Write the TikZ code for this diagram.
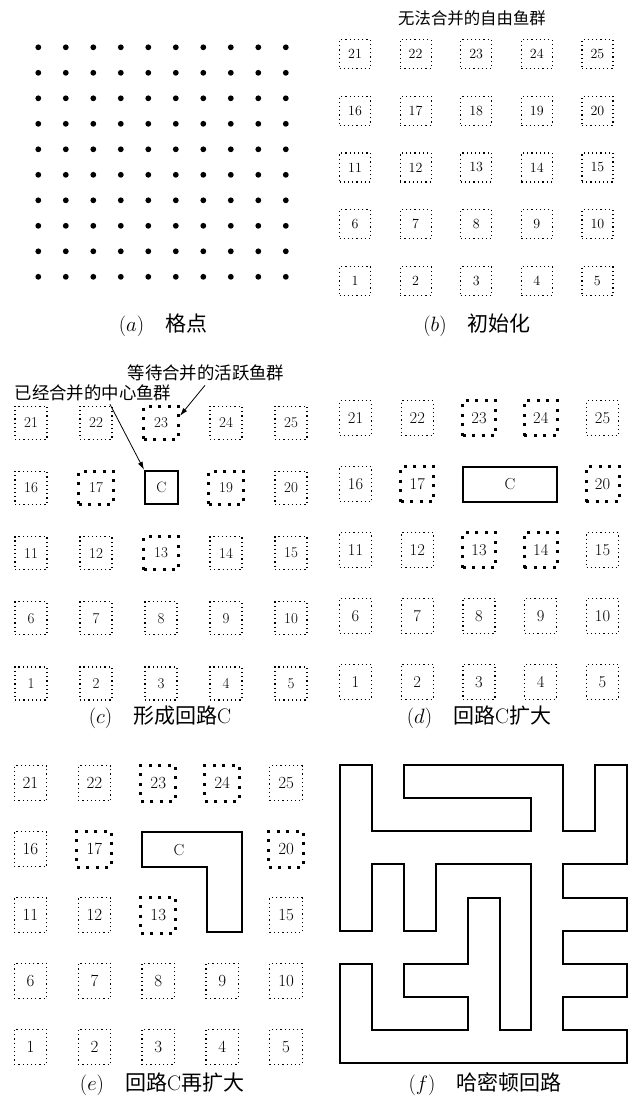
\documentclass[tikz,border=0pt]{standalone}
\usepackage{fontspec}
\newfontfamily\cjk{Noto Sans CJK SC}
\usetikzlibrary{arrows.meta}
\begin{document}
\begin{tikzpicture}[x=1pt,y=-1pt,
  dotbox/.style={draw, dash pattern=on 1.2pt off 3pt, line width=1.2pt, inner sep=0pt},
  boldbox/.style={draw, dash pattern=on 3pt off 6.5pt, line width=3pt, inner sep=0pt},
  cbox/.style={draw, line width=2pt, inner sep=0pt},
  captxt/.style={inner sep=0pt, font=\fontsize{21}{21}\selectfont},
  lbl/.style={inner sep=0pt},
  arr/.style={line width=0.8pt, -{Latex[length=8pt,width=5pt]}},
  hpath/.style={line width=2pt, line join=miter}
]
\useasboundingbox (0,0) rectangle (629,1103);

% ---------- (a) lattice points
\foreach \i in {0,...,9}
  \foreach \j in {0,...,9}
    \fill ({38.3+27.5*\i},{47.3+25.5*\j}) circle (2.9pt);
\node[captxt] (capa) at (163,325) {$(a)$\quad{\cjk 格点}};

% ---------- (b) initialisation
\node[lbl, font=\cjk\fontsize{16.4}{16.4}\selectfont] (titleb) at (472,18) {无法合并的自由鱼群};
\foreach \n in {1,...,25} {
  \pgfmathtruncatemacro\ii{mod(\n-1,5)}
  \pgfmathtruncatemacro\jj{4-int((\n-1)/5)}
  \node[dotbox, minimum width=31pt, minimum height=29pt, font=\fontsize{14}{14}\selectfont]
    (b\n) at ({355+60.6*\ii},{54+56.7*\jj}) {\n};
}
\node[captxt] (capb) at (477,325) {$(b)$\quad{\cjk 初始化}};

% ---------- (c) form circuit C
\foreach \n in {1,2,3,4,5,6,7,8,9,10,11,12,14,15,16,20,21,22,24,25} {
  \pgfmathtruncatemacro\ii{mod(\n-1,5)}
  \pgfmathtruncatemacro\jj{4-int((\n-1)/5)}
  \node[dotbox, minimum width=32pt, minimum height=33pt, font=\fontsize{15}{15}\selectfont]
    (c\n) at ({31+65*\ii},{422.7+65.2*\jj}) {\n};
}
\foreach \n in {13,17,19,23} {
  \pgfmathtruncatemacro\ii{mod(\n-1,5)}
  \pgfmathtruncatemacro\jj{4-int((\n-1)/5)}
  \node[boldbox, minimum width=35pt, minimum height=33pt, font=\fontsize{15}{15}\selectfont]
    (c\n) at ({31+65*\ii},{422.7+65.2*\jj}) {\n};
}
\node[cbox, minimum width=33pt, minimum height=33.5pt, font=\fontsize{15}{15}\selectfont] (cC) at (161.5,487.5) {C};
\node[lbl, font=\cjk\fontsize{17.4}{17.4}\selectfont] (lab1) at (206,373) {等待合并的活跃鱼群};
\node[lbl, font=\cjk\fontsize{17.4}{17.4}\selectfont] (lab2) at (93,393) {已经合并的中心鱼群};
\draw[arr] ([xshift=-1pt,yshift=-4pt]lab1.south) -- (c23.20);
\draw[arr] ([xshift=17pt,yshift=-3pt]lab2.south) -- (cC.north west);
\node[captxt] (capc) at (160,717) {$(c)$\quad{\cjk 形成回路}C};

% ---------- (d) circuit C enlarged
\foreach \n in {1,2,3,4,5,6,7,8,9,10,11,12,15,16,21,22,25} {
  \pgfmathtruncatemacro\ii{mod(\n-1,5)}
  \pgfmathtruncatemacro\jj{4-int((\n-1)/5)}
  \node[dotbox, minimum width=32pt, minimum height=35pt, font=\fontsize{16.5}{16.5}\selectfont]
    (d\n) at ({355.5+61.75*\ii},{418.3+65.85*\jj}) {\n};
}
\foreach \n in {13,14,17,20,23,24} {
  \pgfmathtruncatemacro\ii{mod(\n-1,5)}
  \pgfmathtruncatemacro\jj{4-int((\n-1)/5)}
  \node[boldbox, minimum width=33pt, minimum height=35pt, font=\fontsize{16.5}{16.5}\selectfont]
    (d\n) at ({355.5+61.75*\ii},{418.3+65.85*\jj}) {\n};
}
\node[cbox, minimum width=94pt, minimum height=35pt, font=\fontsize{16}{16}\selectfont] (dC) at (510,484.2) {C};
\node[captxt] (capd) at (479,717) {$(d)$\quad{\cjk 回路}C{\cjk 扩大}};

% ---------- (e) circuit C enlarged again
\foreach \n in {1,2,3,4,5,6,7,8,9,10,11,12,15,16,21,22,25} {
  \pgfmathtruncatemacro\ii{mod(\n-1,5)}
  \pgfmathtruncatemacro\jj{4-int((\n-1)/5)}
  \node[dotbox, minimum width=32.5pt, minimum height=35pt, font=\fontsize{17}{17}\selectfont]
    (e\n) at ({30.5+63.9*\ii},{783.3+65.85*\jj}) {\n};
}
\foreach \n in {13,17,20,23,24} {
  \pgfmathtruncatemacro\ii{mod(\n-1,5)}
  \pgfmathtruncatemacro\jj{4-int((\n-1)/5)}
  \node[boldbox, minimum width=35pt, minimum height=36pt, font=\fontsize{17}{17}\selectfont]
    (e\n) at ({30.5+63.9*\ii},{783.3+65.85*\jj}) {\n};
}
\draw[hpath] (142.3,832.3) -- (241.7,832.3) -- (241.7,932.3) -- (207.3,932.3)
  -- (207.3,866.7) -- (142.3,866.7) -- cycle;
\node[lbl, font=\fontsize{16}{16}\selectfont] (eC) at (179,850) {C};
\node[captxt] (cape) at (162,1084) {$(e)$\quad{\cjk 回路}C{\cjk 再扩大}};

% ---------- (f) Hamiltonian circuit
\begin{scope}[shift={(340,765)}, x=31.9pt, y=-33.15pt]
\draw[hpath] (0,0)--(1,0)--(1,2)--(6,2)--(6,1)--(2,1)--(2,0)--(7,0)--(7,2)--(8,2)--(8,0)
  --(9,0)--(9,3)--(7,3)--(7,4)--(9,4)--(9,5)--(7,5)--(7,6)--(9,6)--(9,7)--(7,7)--(7,8)
  --(9,8)--(9,9)--(0,9)--(0,6)--(1,6)--(1,8)--(4,8)--(4,7)--(2,7)--(2,6)--(4,6)--(4,4)
  --(5,4)--(5,8)--(6,8)--(6,3)--(3,3)--(3,5)--(2,5)--(2,3)--(1,3)--(1,5)--(0,5)--cycle;
\end{scope}
\node[captxt] (capf) at (485,1084) {$(f)$\quad{\cjk 哈密顿回路}};
\end{tikzpicture}
\end{document}
